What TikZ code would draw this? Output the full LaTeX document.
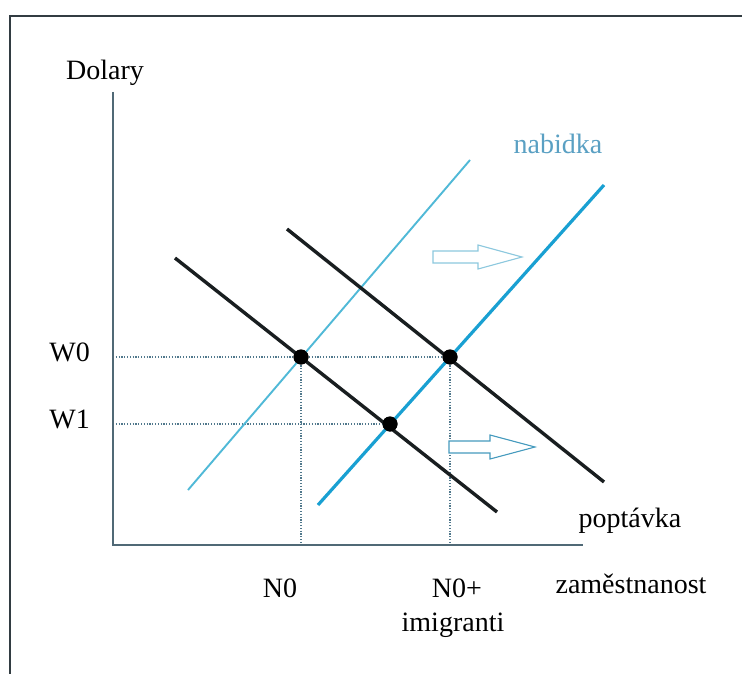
\documentclass[tikz,border=0pt]{standalone}
\usepackage{fontspec}
\setmainfont{Liberation Serif}
\usetikzlibrary{calc}
\definecolor{frame}{RGB}{50,60,66}
\definecolor{axiscol}{RGB}{80,105,118}
\definecolor{lightsup}{RGB}{80,185,215}
\definecolor{strongsup}{RGB}{25,160,210}
\definecolor{demcol}{RGB}{25,30,32}
\definecolor{guide}{RGB}{80,120,140}
\definecolor{labblue}{RGB}{90,160,195}
\definecolor{arr1}{RGB}{140,200,222}
\definecolor{arr2}{RGB}{70,155,190}
\tikzset{
  lab/.style={inner sep=0pt, font=\fontsize{28}{32}\selectfont, text=black, anchor=base},
  axisline/.style={draw=axiscol, line width=2.6pt},
  guideline/.style={draw=guide, line width=1.1pt, dash pattern=on 1.2pt off 1.6pt},
  demand/.style={draw=demcol, line width=3.4pt},
  supplyA/.style={draw=lightsup, line width=1.9pt},
  supplyB/.style={draw=strongsup, line width=3.2pt},
  eqdot/.style={circle, fill=black, inner sep=0pt, minimum size=15pt},
  blockarrow/.style={line width=1.1pt, fill=white, line join=miter}
}
\begin{document}
\begin{tikzpicture}[x=1pt,y=-1pt]
\useasboundingbox (0,0) rectangle (742,674);
\fill[white] (0,0) rectangle (742,674);
% frame
\draw[frame, line width=2pt] (10,674) -- (10,16) -- (742,16);
% axes
\coordinate (O) at (113,545);
\coordinate (Ytop) at (113,92);
\coordinate (Xend) at (583,545);
% equilibrium points
\node[eqdot] (E0) at (301,357) {};
\node[eqdot] (E1) at (450,357) {};
\node[eqdot] (E2) at (390,424) {};
\coordinate (W0a) at (113,357);
\coordinate (W1a) at (113,424);
\coordinate (N0a) at (301,545);
\coordinate (N1a) at (450,545);
% guides
\draw[guideline] (W0a) -- (E1.center);
\draw[guideline] (W1a) -- (E2.center);
\draw[guideline] (E0.center) -- (N0a);
\draw[guideline] (E1.center) -- (N1a);
\draw[axisline] (Ytop) -- (O) -- (Xend);
% curves
\coordinate (SA1) at (188,490);
\coordinate (SA2) at (470,160);
\coordinate (SB1) at (318,505);
\coordinate (SB2) at (604,185);
\coordinate (D11) at (175,258);
\coordinate (D12) at (497,512);
\coordinate (D21) at (287,229);
\coordinate (D22) at (604,482);
\draw[supplyA] (SA1) -- (SA2);
\draw[supplyB] (SB1) -- (SB2);
\draw[demand] (D11) -- (D12);
\draw[demand] (D21) -- (D22);
\node[eqdot] at (E0) {};
\node[eqdot] at (E1) {};
\node[eqdot] at (E2) {};
% block arrows
\draw[blockarrow, draw=arr1] (433,251) -- (478,251) -- (478,245) -- (522,257) -- (478,269) -- (478,263) -- (433,263) -- cycle;
\draw[blockarrow, draw=arr2] (449,441) -- (490,441) -- (490,435) -- (535,447) -- (490,459) -- (490,453) -- (449,453) -- cycle;
% labels
\node[lab] (dol) at (105,80) {Dolary};
\node[lab, anchor=base east] (w0) at (90,361) {W0};
\node[lab, anchor=base east] (w1) at (90,428) {W1};
\node[lab] (n0) at (280,597) {N0};
\node[lab] (n1) at (457,597) {N0+};
\node[lab] (imi) at (453,631) {imigranti};
\node[lab] (zam) at (631,593) {zaměstnanost};
\node[lab] (pop) at (630,527) {poptávka};
\node[lab, text=labblue] (nab) at (558,154) {nabidka};
\end{tikzpicture}
\end{document}
